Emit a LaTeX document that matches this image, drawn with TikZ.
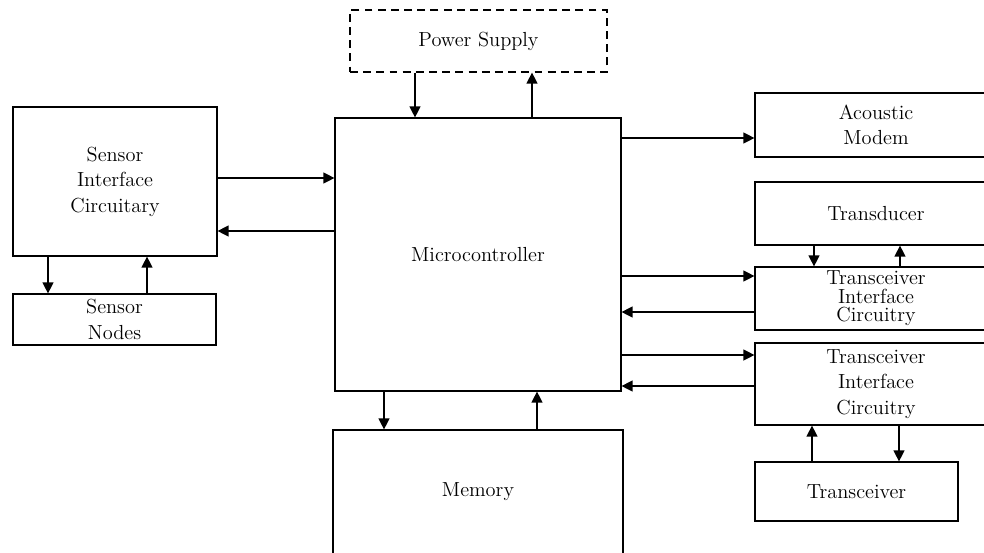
\documentclass[tikz,border=0pt]{standalone}
\usepackage{tikz}
\usetikzlibrary{arrows.meta,positioning}

\begin{document}
\begin{tikzpicture}[
        x=0.02cm, y=-0.02cm,
        block/.style={draw, line width=0.7pt, inner sep=0pt, align=center, font=\fontsize{11.6}{14.5}\selectfont},
        dashblock/.style={block, dash pattern=on 4.5pt off 3pt},
        link/.style={-{Triangle[length=2.2mm, width=2.2mm]}, line width=0.7pt}
      ]
      \useasboundingbox (0,0) rectangle (984,552);
      \clip (0,0) rectangle (984,552);

      \node[dashblock, minimum width=5.14cm, minimum height=1.24cm] (ps) at (478.5,41) {Power Supply};
      \node[block, minimum width=5.72cm, minimum height=5.46cm] (mc) at (478,254.5) {Microcontroller};
      \node[block, minimum width=5.8cm, minimum height=2.48cm] (mem) at (478,492) {Memory};

      \node[block, minimum width=4.08cm, minimum height=2.98cm] (sic) at (115,181.5) {Sensor\\Interface\\Circuitary};
      \node[block, minimum width=4.06cm, minimum height=1.02cm] (sn) at (114.5,319.5) {Sensor\\Nodes};

      \node[block, minimum width=4.84cm, minimum height=1.28cm] (am) at (876,125) {Acoustic\\Modem};
      \node[block, minimum width=4.84cm, minimum height=1.26cm] (td) at (876,213.5) {Transducer};
      \node[block, minimum width=4.84cm, minimum height=1.26cm] (tic1) at (876,298.5) {Transceiver\\[-4pt]Interface\\[-4pt]Circuitry};
      \node[block, minimum width=4.84cm, minimum height=1.64cm] (tic2) at (876,384) {Transceiver\\Interface\\Circuitry};
      \node[block, minimum width=4.06cm, minimum height=1.18cm] (tr) at (856.5,491.5) {Transceiver};

      % power supply
      \draw[link] (ps.south -| 415,0) -- (mc.north -| 415,0);
      \draw[link] (mc.north -| 532,0) -- (ps.south -| 532,0);
      % sensor side
      \draw[link] (sic.east |- 0,178) -- (mc.west |- 0,178);
      \draw[link] (mc.west |- 0,231) -- (sic.east |- 0,231);
      \draw[link] (sic.south -| 48,0) -- (sn.north -| 48,0);
      \draw[link] (sn.north -| 147,0) -- (sic.south -| 147,0);
      % modem side
      \draw[link] (mc.east |- 0,138) -- (am.west |- 0,138);
      \draw[link] (td.south -| 814,0) -- (tic1.north -| 814,0);
      \draw[link] (tic1.north -| 900,0) -- (td.south -| 900,0);
      \draw[link] (mc.east |- 0,276) -- (tic1.west |- 0,276);
      \draw[link] (tic1.west |- 0,312) -- (mc.east |- 0,312);
      \draw[link] (mc.east |- 0,355) -- (tic2.west |- 0,355);
      \draw[link] (tic2.west |- 0,386) -- (mc.east |- 0,386);
      \draw[link] (tr.north -| 812,0) -- (tic2.south -| 812,0);
      \draw[link] (tic2.south -| 899,0) -- (tr.north -| 899,0);
      % memory
      \draw[link] (mc.south -| 384,0) -- (mem.north -| 384,0);
      \draw[link] (mem.north -| 537,0) -- (mc.south -| 537,0);
    \end{tikzpicture}
\end{document}
